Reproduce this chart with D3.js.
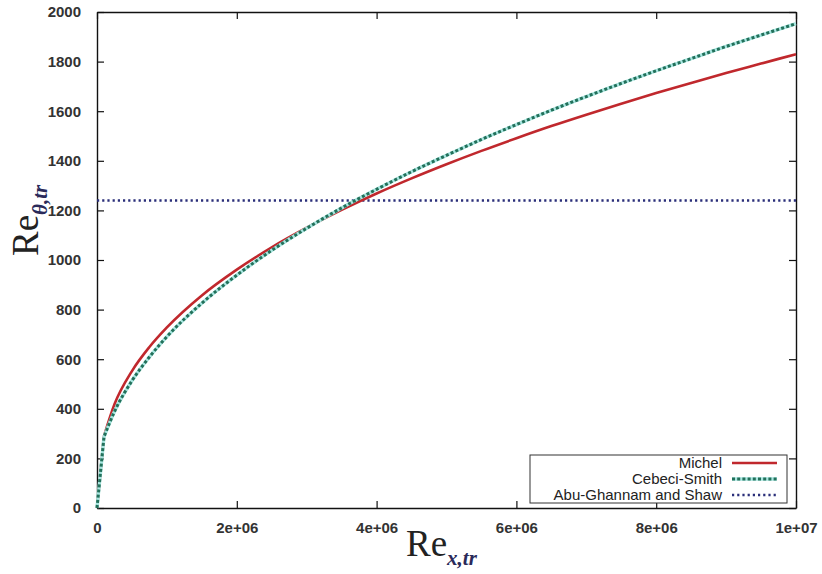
<!DOCTYPE html>
<html>
<head>
<meta charset="utf-8">
<script src="https://cdn.jsdelivr.net/npm/d3@7"></script>
<style>
  body { margin: 0; background: #fff; }
  .tick text { font-family: "Liberation Sans", Arial, sans-serif; font-weight: bold; font-size: 15px; fill: #333; }
</style>
</head>
<body>
<svg id="chart"></svg>
<script>
// values
const reX = [0, 1e5, 2.5e5, 5e5, 7.5e5, 1e6, 1.5e6, 2e6, 2.5e6, 3e6, 3.5e6, 4e6, 4.5e6, 5e6,
             5.5e6, 6e6, 6.5e6, 7e6, 7.5e6, 8e6, 8.5e6, 9e6, 9.5e6, 1e7];
const michel = [0, 290, 418, 552, 649, 728, 857, 961, 1051, 1130, 1202, 1268, 1329, 1386,
                1440, 1491, 1540, 1586, 1630, 1673, 1714, 1754, 1792, 1830];
const cebeciSmith = [0, 287, 389, 513, 609, 691, 826, 939, 1039, 1128, 1210, 1285, 1356, 1422,
                     1486, 1546, 1604, 1659, 1712, 1763, 1812, 1861, 1907, 1953];
const abuGhannam = 1240;
const xTicks = [0, 2e6, 4e6, 6e6, 8e6, 1e7];
const xTickLabels = ['0', '2e+06', '4e+06', '6e+06', '8e+06', '1e+07'];
const yTicks = [0, 200, 400, 600, 800, 1000, 1200, 1400, 1600, 1800, 2000];
const seriesNames = ['Michel', 'Cebeci-Smith', 'Abu-Ghannam and Shaw'];

const W = 822, H = 574;
const margin = {top: 12, right: 26, bottom: 66, left: 97};
const width = W - margin.left - margin.right;
const height = H - margin.top - margin.bottom;

const svg = d3.select('#chart')
    .attr('width', W)
    .attr('height', H);

const g = svg.append('g')
    .attr('transform', 'translate(' + margin.left + ',' + margin.top + ')');

const x = d3.scaleLinear().domain([0, 1e7]).range([0, width]);
const y = d3.scaleLinear().domain([0, 2000]).range([height, 0]);

// axes, ticks pointing inward and mirrored on top/right like gnuplot
const fmtX = (d) => xTickLabels[xTicks.indexOf(d)];
g.append('g')
    .attr('transform', 'translate(0,' + height + ')')
    .call(d3.axisBottom(x).tickValues(xTicks).tickFormat(fmtX).tickSizeInner(-7).tickSizeOuter(0).tickPadding(14));
g.append('g')
    .call(d3.axisTop(x).tickValues(xTicks).tickFormat('').tickSizeInner(-7).tickSizeOuter(0));
g.append('g')
    .call(d3.axisLeft(y).tickValues(yTicks).tickFormat(d3.format('d')).tickSizeInner(-7).tickSizeOuter(0).tickPadding(16));
g.append('g')
    .attr('transform', 'translate(' + width + ',0)')
    .call(d3.axisRight(y).tickValues(yTicks).tickFormat('').tickSizeInner(-7).tickSizeOuter(0));

g.selectAll('.domain').attr('stroke', '#111').attr('stroke-width', 1.4);
g.selectAll('.tick line').attr('stroke', '#111').attr('stroke-width', 1.2);

const pts = (vals) => reX.map((d, i) => [d, vals[i]]);
const lineStraight = d3.line().x((d) => x(d[0])).y((d) => y(d[1]));
const lineSmooth = d3.line().x((d) => x(d[0])).y((d) => y(d[1])).curve(d3.curveMonotoneX);
// straight first segment from the origin, smooth afterwards (kink as in gnuplot output)
const curvePath = (p) => lineStraight(p.slice(0, 2)) + 'L' + lineSmooth(p.slice(1)).slice(1);

// Abu-Ghannam and Shaw
g.append('path')
    .datum([[0, abuGhannam], [1e7, abuGhannam]])
    .attr('d', lineStraight)
    .attr('fill', 'none')
    .attr('stroke', '#2b2f7a')
    .attr('stroke-width', 2.4)
    .attr('stroke-dasharray', '2.2,3');

// Michel
g.append('path')
    .datum(pts(michel))
    .attr('d', curvePath)
    .attr('fill', 'none')
    .attr('stroke', '#c0282d')
    .attr('stroke-width', 2.6)
    .attr('stroke-linejoin', 'round');

// Cebeci-Smith
g.append('path')
    .datum(pts(cebeciSmith))
    .attr('d', curvePath)
    .attr('fill', 'none')
    .attr('stroke', '#a8e6e0')
    .attr('stroke-width', 3.4);
g.append('path')
    .datum(pts(cebeciSmith))
    .attr('d', curvePath)
    .attr('fill', 'none')
    .attr('stroke', '#23705a')
    .attr('stroke-width', 3)
    .attr('stroke-dasharray', '3,2.2');

// legend
const legend = svg.append('g');
legend.append('rect')
    .attr('x', 530).attr('y', 455)
    .attr('width', 257).attr('height', 48)
    .attr('fill', '#fff')
    .attr('stroke', '#333')
    .attr('stroke-width', 1);

const legendStyles = [
  {stroke: '#c0282d', dash: null, w: 2.6},
  {stroke: '#23705a', dash: '3,2.2', w: 3},
  {stroke: '#2b2f7a', dash: '2.2,3', w: 2.4}
];
seriesNames.forEach((name, i) => {
  const ly = 463 + i * 16;
  legend.append('text')
      .attr('x', 722).attr('y', ly + 5)
      .attr('text-anchor', 'end')
      .style('font-family', '"Liberation Sans", Arial, sans-serif')
      .style('font-size', '15px')
      .style('fill', '#222')
      .text(name);
  if (i === 1) {
    legend.append('line')
        .attr('x1', 732).attr('x2', 777).attr('y1', ly).attr('y2', ly)
        .attr('stroke', '#a8e6e0').attr('stroke-width', 3.4);
  }
  legend.append('line')
      .attr('x1', 732).attr('x2', 777).attr('y1', ly).attr('y2', ly)
      .attr('stroke', legendStyles[i].stroke)
      .attr('stroke-width', legendStyles[i].w)
      .attr('stroke-dasharray', legendStyles[i].dash);
});

// axis titles
const xTitle = svg.append('text')
    .attr('x', 406).attr('y', 556)
    .style('font-family', '"Liberation Serif", "Times New Roman", serif')
    .style('fill', '#222');
xTitle.append('tspan').style('font-size', '37px').text('Re');
xTitle.append('tspan').attr('dy', 9)
    .style('font-size', '21px').style('font-weight', 'bold').style('font-style', 'italic')
    .style('fill', '#2a2a5a')
    .text('x,tr');

const yTitle = svg.append('text')
    .attr('transform', 'translate(38,256) rotate(-90)')
    .style('font-family', '"Liberation Serif", "Times New Roman", serif')
    .style('fill', '#222');
yTitle.append('tspan').style('font-size', '37px').text('Re');
yTitle.append('tspan').attr('dy', 9)
    .style('font-size', '21px').style('font-weight', 'bold').style('font-style', 'italic')
    .style('fill', '#2a2a5a')
    .text('\u03b8,tr');
</script>
</body>
</html>
